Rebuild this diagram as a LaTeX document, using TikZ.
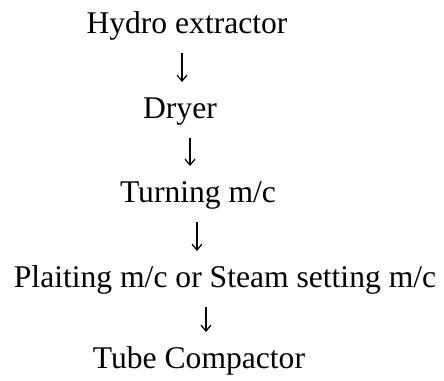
\documentclass[tikz,border=0pt]{standalone}
\usepackage{fontspec}
\setmainfont{Liberation Serif}
\usetikzlibrary{arrows.meta}
\begin{document}
\begin{tikzpicture}[x=1pt, y=-1pt, >={Straight Barb[length=6pt,width=10pt]},
	stage/.style={anchor=base, inner sep=0pt, font=\fontsize{31.6}{38}\selectfont},
	flow/.style={->, line width=1.2pt, shorten <=20pt, shorten >=36pt}]
	\useasboundingbox (0,0) rectangle (444,380);
	
	% stages of the process
	\node[stage] (hydro) at (187,33) {Hydro extractor};
	\node[stage] (dryer) at (180,118) {Dryer};
	\node[stage] (turning) at (198,202) {Turning m/c};
	\node[stage] (plaiting) at (225,287) {Plaiting m/c or Steam setting m/c};
	\node[stage] (tube) at (199,368) {Tube Compactor};
	
	% arrows between the stages
	\foreach \a/\b/\x in {hydro/dryer/182, dryer/turning/190, turning/plaiting/197, plaiting/tube/206}
		\draw[flow] (\x,0 |- \a.base) -- (\x,0 |- \b.base);
\end{tikzpicture}
\end{document}
